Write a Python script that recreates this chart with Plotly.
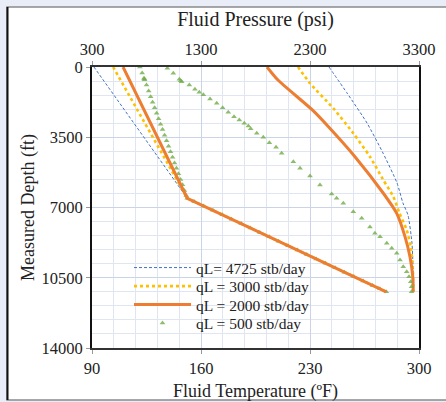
import plotly.graph_objects as go

# ---------------- data ----------------
# Pressure profiles (top axis, psi) vs measured depth (ft)
press_depth = [0, 6540, 11200]
press_4725 = [318, 1174, 3000]
press_3000 = [494, 1174, 3000]
press_2000 = [585, 1174, 3000]

press_500_depth = [0, 300, 560, 600, 640, 900, 1200, 1480, 1750, 2030, 2300, 2580, 2850,
                   3120, 3400, 3680, 3950, 4220, 4500, 4780, 5050, 5320, 5600, 5870, 6150,
                   6400, 6540, 6700, 6920, 7140, 7360, 7580, 7800, 8020, 8240, 8460, 8680,
                   8900, 9120, 9340, 9560, 9780, 10000, 10220, 10440, 10660, 10880, 11050, 11200]
press_500 = [740, 760, 777, 780, 782, 800, 820, 838, 856, 875, 893, 911, 929,
             947, 966, 984, 1002, 1020, 1039, 1057, 1075, 1093, 1112, 1130, 1148,
             1165, 1174, 1237, 1323, 1409, 1495, 1581, 1668, 1754, 1840, 1926, 2012,
             2098, 2185, 2271, 2357, 2443, 2530, 2616, 2702, 2788, 2874, 2941, 3000]

# Temperature profiles (bottom axis, F) vs measured depth (ft)
temp_depth_4725 = [0, 1300, 2790, 4290, 5780, 6780, 7370, 8770, 9870, 11200]
temp_4725 = [242.2, 253.8, 266.6, 276.9, 285.9, 289.7, 292.9, 295.5, 296.1, 296.3]

temp_depth_3000 = [0, 810, 2060, 3300, 4470, 5630, 6460, 7290, 8120, 9000, 10000, 11200]
temp_3000 = [222.3, 230.0, 245.0, 257.8, 268.5, 277.1, 283.5, 287.5, 292.1, 294.8, 296.0, 296.3]

temp_depth_2000 = [0, 650, 2140, 2990, 4480, 6290, 7290, 8450, 9450, 10450, 11200]
temp_2000 = [202.4, 209.4, 231.5, 242.0, 259.0, 277.1, 285.7, 291.0, 294.2, 296.0, 296.3]

temp_depth_500 = [65, 314, 613, 683, 732, 897, 1111, 1261, 1380, 1594, 1809, 2028, 2257,
                  2476, 2641, 2805, 2939, 3074, 3303, 3502, 3771, 4000, 4299, 4718, 5047,
                  5430, 5879, 6327, 6542, 6791, 7209, 7538, 7971, 8285, 8455, 8784, 9033,
                  9282, 9616, 9950, 10199, 10448, 10697, 10946, 11195]
temp_500 = [138.4, 142.2, 146.1, 147.0, 147.6, 152.5, 156.1, 158.9, 161.5, 165.8, 170.1, 173.9, 177.5,
            181.2, 184.6, 187.8, 190.4, 191.9, 195.8, 200.0, 203.9, 208.2, 211.8, 219.3, 223.6,
            230.0, 236.4, 243.9, 247.1, 251.4, 257.8, 263.2, 268.5, 271.7, 275.0, 279.3, 282.5,
            285.7, 287.8, 289.9, 292.1, 293.6, 294.7, 295.2, 295.2]

labels = ["qL= 4725 stb/day", "qL = 3000 stb/day", "qL = 2000 stb/day", "qL = 500 stb/day"]

depth_ticks = [0, 3500, 7000, 10500, 14000]
depth_ticktext = ["0", "3500", "7000", "10500", "14000"]
temp_ticks = [90, 160, 230, 300]
press_ticks = [300, 1300, 2300, 3300]

# ---------------- styles ----------------
FONT = "Liberation Serif"
BLUE = "#4472C4"
YELLOW = "#FFC000"
ORANGE = "#ED7D31"
GREEN = "rgba(112,173,71,0.8)"

blue_line = dict(color=BLUE, width=1, dash="3px,2px")
yellow_line = dict(color=YELLOW, width=2.6, dash="dot")
orange_line = dict(color=ORANGE, width=3)
green_marker = dict(symbol="triangle-up", size=5, color=GREEN)

fig = go.Figure()

# Pressure traces (top axis)
fig.add_trace(go.Scatter(x=press_4725, y=press_depth, xaxis="x2", mode="lines", line=blue_line,
                         name=labels[0], legend="legend", showlegend=True))
fig.add_trace(go.Scatter(x=press_3000, y=press_depth, xaxis="x2", mode="lines", line=yellow_line,
                         name=labels[1], legend="legend2", showlegend=True))
fig.add_trace(go.Scatter(x=press_500, y=press_500_depth, xaxis="x2", mode="markers", marker=green_marker,
                         name=labels[3], showlegend=False))
fig.add_trace(go.Scatter(x=press_2000, y=press_depth, xaxis="x2", mode="lines", line=orange_line,
                         name=labels[2], legend="legend3", showlegend=True))

# Temperature traces (bottom axis)
fig.add_trace(go.Scatter(x=temp_4725, y=temp_depth_4725, mode="lines",
                         line=dict(blue_line, shape="spline", smoothing=0.6),
                         name=labels[0], showlegend=False))
fig.add_trace(go.Scatter(x=temp_3000, y=temp_depth_3000, mode="lines",
                         line=dict(yellow_line, shape="spline", smoothing=0.6),
                         name=labels[1], showlegend=False))
fig.add_trace(go.Scatter(x=temp_2000, y=temp_depth_2000, mode="lines",
                         line=dict(orange_line, shape="spline", smoothing=0.6),
                         name=labels[2], showlegend=False))
fig.add_trace(go.Scatter(x=temp_500, y=temp_depth_500, mode="markers", marker=green_marker,
                         name=labels[3], legend="legend4", showlegend=True))

# ---------------- layout ----------------
L, R, T, B = 92, 419, 67, 348
def px_x(p):
    return (p - L) / (R - L)
def px_y(p):
    return (B - p) / (B - T)

grid_major = "#c9d4e6"
grid_minor = "#dfe6f2"
axis_col = "#333333"

def leg(row_y):
    return dict(
        x=px_x(129), y=px_y(row_y), xanchor="left", yanchor="middle",
        bgcolor="rgba(0,0,0,0)", font=dict(size=15.5, family=FONT, color="#222222"),
        itemwidth=57,
    )

fig.update_layout(
    width=446, height=402,
    margin=dict(l=L, r=446 - R, t=T, b=402 - B, autoexpand=False),
    paper_bgcolor="#e8edf7",
    plot_bgcolor="rgba(0,0,0,0)",
    font=dict(family=FONT, size=16, color="#222222"),
    xaxis=dict(
        range=[90, 300], tickvals=temp_ticks, ticks="outside", ticklen=4, tickcolor="#999999",
        showgrid=True, gridcolor=grid_major, gridwidth=1,
        minor=dict(dtick=14, tick0=90, showgrid=True, gridcolor=grid_minor, gridwidth=1),
        showline=True, linecolor=axis_col, linewidth=1.5, mirror=False,
        zeroline=False, automargin=False,
        title=dict(text="Fluid Temperature (ºF)", font=dict(size=18), standoff=9),
        tickfont=dict(size=16.5),
    ),
    xaxis2=dict(
        range=[300, 3300], tickvals=press_ticks, overlaying="x", side="top", anchor="y",
        ticks="outside", ticklen=4, tickcolor="#999999",
        showgrid=False, zeroline=False, automargin=False,
        showline=True, linecolor=axis_col, linewidth=1.5,
        title=dict(text="Fluid Pressure (psi)", font=dict(size=20), standoff=8),
        tickfont=dict(size=16.5),
    ),
    yaxis=dict(
        range=[14000, 0], tickvals=depth_ticks, ticktext=depth_ticktext,
        ticks="outside", ticklen=4, tickcolor="#999999",
        showgrid=True, gridcolor=grid_major, gridwidth=1,
        minor=dict(dtick=700, tick0=0, showgrid=True, gridcolor=grid_minor, gridwidth=1),
        showline=True, linecolor="#111111", linewidth=2, mirror=True,
        zeroline=False, automargin=False,
        title=dict(text="Measured Depth (ft)", font=dict(size=18), standoff=2),
        tickfont=dict(size=16.5),
    ),
    legend=leg(268),
    legend2=leg(286.5),
    legend3=leg(305),
    legend4=leg(323.5),
    shapes=[
        dict(type="rect", xref="paper", yref="paper", layer="below",
             x0=px_x(7), x1=px_x(470), y0=px_y(400), y1=px_y(7),
             fillcolor="white", line=dict(color="#8a8a8a", width=1.5)),
        dict(type="line", xref="paper", yref="paper", layer="below",
             x0=px_x(7.5), x1=px_x(7.5), y0=px_y(400), y1=px_y(7),
             line=dict(color="#111111", width=2)),
    ],
)

fig.write_html("out.html")
